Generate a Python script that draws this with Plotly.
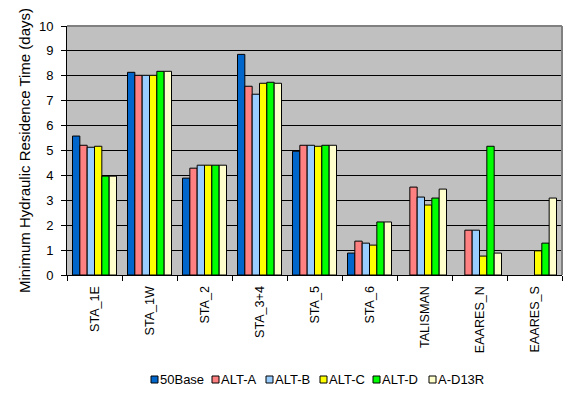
import plotly.graph_objects as go

categories = ["STA_1E", "STA_1W", "STA_2", "STA_3+4", "STA_5", "STA_6", "TALISMAN", "EAARES_N", "EAARES_S"]
series_names = ["50Base", "ALT-A", "ALT-B", "ALT-C", "ALT-D", "A-D13R"]
base_50 = [5.58, 8.14, 3.89, 8.86, 4.97, 0.88, None, None, None]
alt_a = [5.21, 8.02, 4.29, 7.58, 5.21, 1.36, 3.53, 1.80, None]
alt_b = [5.13, 8.02, 4.41, 7.26, 5.21, 1.28, 3.13, 1.80, None]
alt_c = [5.17, 8.02, 4.41, 7.70, 5.17, 1.20, 2.81, 0.76, 0.97]
alt_d = [3.97, 8.18, 4.41, 7.74, 5.21, 2.13, 3.09, 5.17, 1.28]
a_d13r = [3.97, 8.18, 4.41, 7.70, 5.21, 2.13, 3.45, 0.88, 3.09]
y_ticks = [0, 1, 2, 3, 4, 5, 6, 7, 8, 9, 10]

colors = ["#0066CC", "#FF8080", "#99CCFF", "#FFFF00", "#00FF00", "#FFFFCC"]
values = [base_50, alt_a, alt_b, alt_c, alt_d, a_d13r]

# the page body has a default 8px margin; compensate so the plot lands where the reference has it
BODY = 8
W, H = 577 - BODY, 397 - BODY
ML, MR, MT, MB = 67 - BODY, 15, 26 - BODY, 122
PW, PH = W - ML - MR, H - MT - MB
PLOT_LEFT_PX, PLOT_BOTTOM_PX = ML + BODY, MT + BODY + PH

fig = go.Figure()
for name, vals, col in zip(series_names, values, colors):
    fig.add_trace(go.Bar(x=categories, y=vals, name=name, showlegend=False,
                         marker=dict(color=col, line=dict(color="black", width=1))))

# custom compact legend (Excel style): small outlined squares followed by text
legend_left_px = [151, 212, 266, 320, 373, 429]
legend_y_px = 379.5
sq = 7
shapes = [
    dict(type="line", xref="paper", yref="paper", x0=0, x1=1, y0=1, y1=1,
         line=dict(color="#808080", width=2)),
    dict(type="line", xref="paper", yref="paper", x0=1, x1=1, y0=0, y1=1,
         line=dict(color="#808080", width=2)),
]
annotations = []
for name, col, lx in zip(series_names, colors, legend_left_px):
    x0 = (lx - PLOT_LEFT_PX) / PW
    x1 = (lx + sq - PLOT_LEFT_PX) / PW
    yc = (PLOT_BOTTOM_PX - legend_y_px) / PH
    y0 = yc - (sq / 2) / PH
    y1 = yc + (sq / 2) / PH
    shapes.append(dict(type="rect", xref="paper", yref="paper", x0=x0, x1=x1, y0=y0, y1=y1,
                       fillcolor=col, line=dict(color="black", width=1)))
    annotations.append(dict(text=name, xref="paper", yref="paper",
                            x=(lx + sq + 1 - PLOT_LEFT_PX) / PW, y=yc, xanchor="left", yanchor="middle",
                            showarrow=False, font=dict(size=13), borderpad=0))

font_family = "Liberation Sans, Arial, sans-serif"
fig.update_layout(
    width=W, height=H,
    margin=dict(l=ML, r=MR, t=MT, b=MB),
    paper_bgcolor="white",
    plot_bgcolor="#C0C0C0",
    barmode="group",
    bargap=0.2,
    bargroupgap=0,
    font=dict(family=font_family, size=13, color="black"),
    showlegend=False,
    xaxis=dict(
        tickangle=-90,
        showline=True, linecolor="black", linewidth=1,
        ticks="outside", ticklen=5, tickcolor="black",
        tickson="boundaries",
        showgrid=False,
        tickfont=dict(size=12.6),
        ticklabelstandoff=5,
        automargin=False,
    ),
    yaxis=dict(
        range=[0, 10],
        tickvals=y_ticks,
        showline=True, linecolor="black", linewidth=1,
        ticks="outside", ticklen=5, tickcolor="black",
        showgrid=True, gridcolor="black", gridwidth=1,
        zeroline=False,
        tickfont=dict(size=13),
        ticklabelstandoff=5,
        automargin=False,
        title=dict(text="Minimum Hydraulic Residence Time (days)", font=dict(size=15), standoff=4),
    ),
    shapes=shapes,
    annotations=annotations,
)

fig.write_html("out.html")
